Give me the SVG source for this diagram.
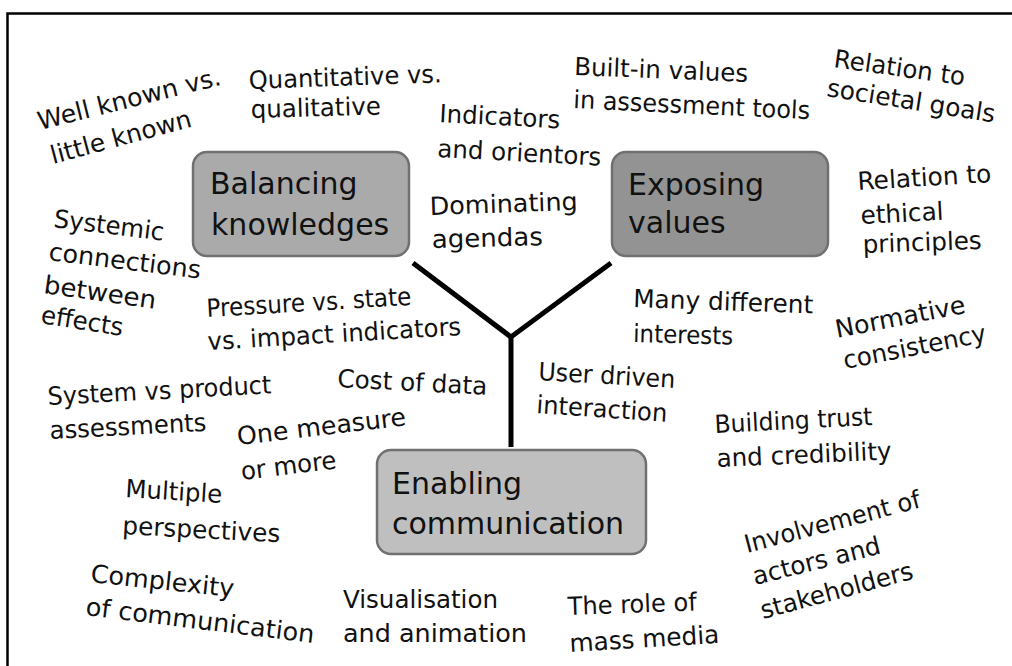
<svg xmlns="http://www.w3.org/2000/svg" width="1012" height="666" viewBox="0 0 1012 666">
<style>
.lbl{font-family:"DejaVu Sans","Liberation Sans",sans-serif;font-size:25px;fill:#111}
.box{stroke:#707070;stroke-width:2.5}
.bt{font-family:"DejaVu Sans","Liberation Sans",sans-serif;font-size:30px;fill:#111}
.conn{fill:none;stroke:#000;stroke-width:5;stroke-linejoin:miter}
</style>
<rect x="0" y="0" width="1012" height="666" fill="#fff"/>
<rect x="7.5" y="13.5" width="1100" height="700" fill="none" stroke="#000" stroke-width="2.5"/>

<g id="connectors">
<path class="conn" d="M413,263 L511,337 L611,263"/>
<path class="conn" d="M511,337 V447"/>
</g>

<g id="balancing">
<rect class="box" x="193" y="152" width="216" height="104" rx="14" fill="#aaaaaa"/>
<text class="bt" x="210" y="194">Balancing</text>
<text class="bt" x="211" y="235">knowledges</text>
</g>
<g id="exposing">
<rect class="box" x="612" y="152" width="216" height="104" rx="14" fill="#939393"/>
<text class="bt" x="628" y="195">Exposing</text>
<text class="bt" x="628" y="233">values</text>
</g>
<g id="enabling">
<rect class="box" x="377" y="450" width="269" height="104" rx="14" fill="#bfbfbf"/>
<text class="bt" x="392" y="494">Enabling</text>
<text class="bt" x="392" y="534">communication</text>
</g>

<g id="well-known">
<text class="lbl" x="40" y="130" transform="rotate(-14 40 130)" textLength="188" lengthAdjust="spacingAndGlyphs">Well known vs.</text>
<text class="lbl" x="53" y="164" transform="rotate(-15 53 164)" textLength="145" lengthAdjust="spacingAndGlyphs">little known</text>
</g>
<g id="quantitative">
<text class="lbl" x="249" y="89" transform="rotate(-2 249 89)" textLength="193" lengthAdjust="spacingAndGlyphs">Quantitative vs.</text>
<text class="lbl" x="251" y="118" transform="rotate(-1.5 251 118)" textLength="130" lengthAdjust="spacingAndGlyphs">qualitative</text>
</g>
<g id="indicators">
<text class="lbl" x="439" y="122" transform="rotate(3 439 122)" textLength="121" lengthAdjust="spacingAndGlyphs">Indicators</text>
<text class="lbl" x="437" y="157" transform="rotate(3 437 157)" textLength="164" lengthAdjust="spacingAndGlyphs">and orientors</text>
</g>
<g id="built-in">
<text class="lbl" x="574" y="75" transform="rotate(2.3 574 75)" textLength="174" lengthAdjust="spacingAndGlyphs">Built-in values</text>
<text class="lbl" x="573" y="108" transform="rotate(2.7 573 108)" textLength="237" lengthAdjust="spacingAndGlyphs">in assessment tools</text>
</g>
<g id="societal">
<text class="lbl" x="833" y="67" transform="rotate(8 833 67)" textLength="132" lengthAdjust="spacingAndGlyphs">Relation to</text>
<text class="lbl" x="826" y="96" transform="rotate(9 826 96)" textLength="170" lengthAdjust="spacingAndGlyphs">societal goals</text>
</g>
<g id="ethical">
<text class="lbl" x="858" y="190" transform="rotate(-3.4 858 190)" textLength="134" lengthAdjust="spacingAndGlyphs">Relation to</text>
<text class="lbl" x="861" y="224" transform="rotate(-3 861 224)" textLength="83" lengthAdjust="spacingAndGlyphs">ethical</text>
<text class="lbl" x="863" y="253" transform="rotate(-2 863 253)" textLength="119" lengthAdjust="spacingAndGlyphs">principles</text>
</g>
<g id="normative">
<text class="lbl" x="837" y="338" transform="rotate(-11 837 338)" textLength="132" lengthAdjust="spacingAndGlyphs">Normative</text>
<text class="lbl" x="845" y="369" transform="rotate(-11 845 369)" textLength="145" lengthAdjust="spacingAndGlyphs">consistency</text>
</g>
<g id="dominating">
<text class="lbl" x="430" y="215" transform="rotate(-2 430 215)" textLength="148" lengthAdjust="spacingAndGlyphs">Dominating</text>
<text class="lbl" x="432" y="248" transform="rotate(-1.5 432 248)" textLength="111" lengthAdjust="spacingAndGlyphs">agendas</text>
</g>
<g id="systemic">
<text class="lbl" x="53" y="227" transform="rotate(7 53 227)" textLength="111" lengthAdjust="spacingAndGlyphs">Systemic</text>
<text class="lbl" x="48" y="260" transform="rotate(7 48 260)" textLength="153" lengthAdjust="spacingAndGlyphs">connections</text>
<text class="lbl" x="43" y="293" transform="rotate(8 43 293)" textLength="113" lengthAdjust="spacingAndGlyphs">between</text>
<text class="lbl" x="40" y="323" transform="rotate(9 40 323)" textLength="83" lengthAdjust="spacingAndGlyphs">effects</text>
</g>
<g id="pressure">
<text class="lbl" x="207" y="317" transform="rotate(-3.4 207 317)" textLength="205" lengthAdjust="spacingAndGlyphs">Pressure vs. state</text>
<text class="lbl" x="208" y="350" transform="rotate(-3.4 208 350)" textLength="254" lengthAdjust="spacingAndGlyphs">vs. impact indicators</text>
</g>
<g id="many-interests">
<text class="lbl" x="633" y="307" transform="rotate(2 633 307)" textLength="180" lengthAdjust="spacingAndGlyphs">Many different</text>
<text class="lbl" x="633" y="342" transform="rotate(1.5 633 342)" textLength="100" lengthAdjust="spacingAndGlyphs">interests</text>
</g>
<g id="user-driven">
<text class="lbl" x="538" y="380" transform="rotate(3.3 538 380)" textLength="137" lengthAdjust="spacingAndGlyphs">User driven</text>
<text class="lbl" x="536" y="413" transform="rotate(3.8 536 413)" textLength="131" lengthAdjust="spacingAndGlyphs">interaction</text>
</g>
<g id="system-product">
<text class="lbl" x="48" y="405" transform="rotate(-3 48 405)" textLength="224" lengthAdjust="spacingAndGlyphs">System vs product</text>
<text class="lbl" x="50" y="439" transform="rotate(-3 50 439)" textLength="157" lengthAdjust="spacingAndGlyphs">assessments</text>
</g>
<g id="cost-data">
<text class="lbl" x="337" y="387" transform="rotate(3 337 387)" textLength="150" lengthAdjust="spacingAndGlyphs">Cost of data</text>
</g>
<g id="one-measure">
<text class="lbl" x="238" y="445" transform="rotate(-6.7 238 445)" textLength="170" lengthAdjust="spacingAndGlyphs">One measure</text>
<text class="lbl" x="242" y="480" transform="rotate(-7 242 480)" textLength="96" lengthAdjust="spacingAndGlyphs">or more</text>
</g>
<g id="multiple">
<text class="lbl" x="125" y="497" transform="rotate(3.5 125 497)" textLength="97" lengthAdjust="spacingAndGlyphs">Multiple</text>
<text class="lbl" x="122" y="534" transform="rotate(3 122 534)" textLength="158" lengthAdjust="spacingAndGlyphs">perspectives</text>
</g>
<g id="complexity">
<text class="lbl" x="90" y="582" transform="rotate(6 90 582)" textLength="144" lengthAdjust="spacingAndGlyphs">Complexity</text>
<text class="lbl" x="85" y="615" transform="rotate(7 85 615)" textLength="230" lengthAdjust="spacingAndGlyphs">of communication</text>
</g>
<g id="visualisation">
<text class="lbl" x="343" y="608" textLength="155" lengthAdjust="spacingAndGlyphs">Visualisation</text>
<text class="lbl" x="343" y="642" textLength="184" lengthAdjust="spacingAndGlyphs">and animation</text>
</g>
<g id="mass-media">
<text class="lbl" x="568" y="615" transform="rotate(-2 568 615)" textLength="129" lengthAdjust="spacingAndGlyphs">The role of</text>
<text class="lbl" x="570" y="652" transform="rotate(-3.5 570 652)" textLength="150" lengthAdjust="spacingAndGlyphs">mass media</text>
</g>
<g id="trust">
<text class="lbl" x="715" y="433" transform="rotate(-2.9 715 433)" textLength="158" lengthAdjust="spacingAndGlyphs">Building trust</text>
<text class="lbl" x="717" y="467" transform="rotate(-2.5 717 467)" textLength="175" lengthAdjust="spacingAndGlyphs">and credibility</text>
</g>
<g id="involvement">
<text class="lbl" x="747" y="553" transform="rotate(-14.7 747 553)" textLength="181" lengthAdjust="spacingAndGlyphs">Involvement of</text>
<text class="lbl" x="755" y="585" transform="rotate(-14 755 585)" textLength="131" lengthAdjust="spacingAndGlyphs">actors and</text>
<text class="lbl" x="763" y="619" transform="rotate(-15 763 619)" textLength="157" lengthAdjust="spacingAndGlyphs">stakeholders</text>
</g>
</svg>
